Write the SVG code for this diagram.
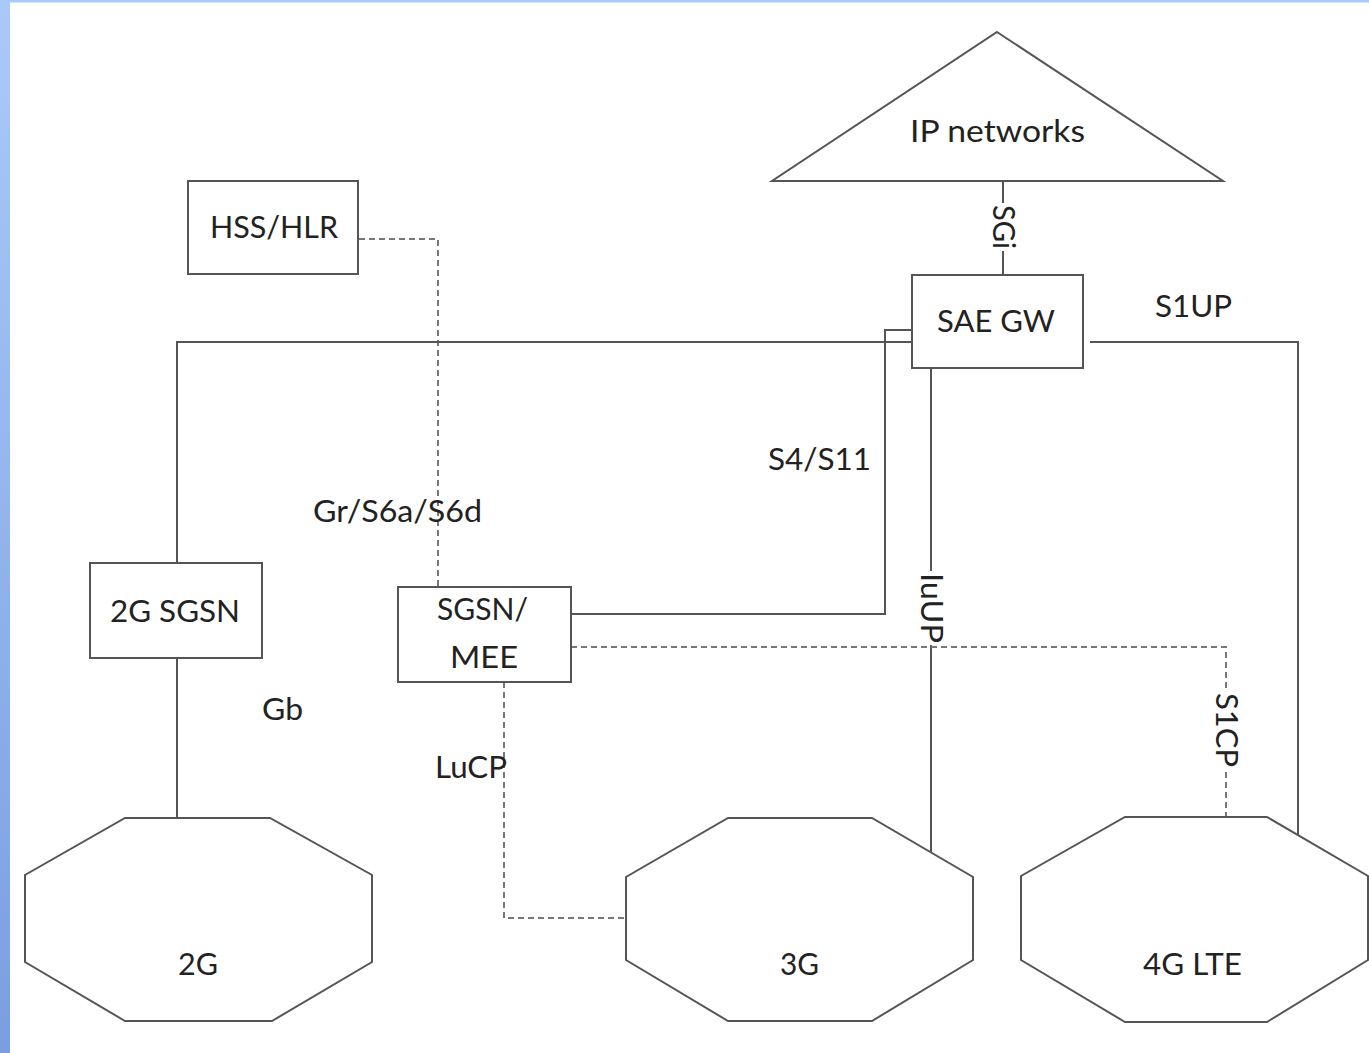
<svg xmlns="http://www.w3.org/2000/svg" width="1369" height="1053" viewBox="0 0 1369 1053">
<defs>
<linearGradient id="bar" x1="0" y1="0" x2="0" y2="1">
<stop offset="0" stop-color="#a9caf9"/>
<stop offset="1" stop-color="#7c9ee0"/>
</linearGradient>
</defs>
<style>
.shape{fill:#fff;stroke:#555;stroke-width:2}
.ln{fill:none;stroke:#555;stroke-width:2}
.dash{fill:none;stroke:#777;stroke-width:2;stroke-dasharray:6 4}
text{font-family:Lato,"Open Sans","Liberation Sans",sans-serif;font-size:31px;fill:#222}
.c{text-anchor:middle}
</style>
<rect x="0" y="0" width="1369" height="1053" fill="#fff"/>
<rect x="0" y="0" width="1369" height="2.5" fill="#a9caf9"/>
<rect x="0" y="0" width="10" height="1053" fill="url(#bar)"/>

<g id="connectors">
<path class="dash" d="M359,239 H438 V587"/>
<line class="ln" x1="1003" y1="181" x2="1003" y2="275"/>
<path class="ln" d="M177,563 V342 H912"/>
<path class="ln" d="M571,614 H885 V330 H912"/>
<path class="ln" d="M931,368 V852"/>
<path class="ln" d="M1090,342 H1298 V835"/>
<path class="dash" d="M571,647 H1226 V817"/>
<path class="dash" d="M504,682 V918 H626"/>
<path class="ln" d="M177,658 V818"/>
<rect x="991" y="203" width="24" height="48" fill="#fff"/>
<text class="c" transform="translate(1003,227) rotate(90)" y="10" textLength="44" lengthAdjust="spacingAndGlyphs">SGi</text>
<rect x="919" y="571" width="24" height="74" fill="#fff"/>
<text class="c" transform="translate(931,608) rotate(90)" y="10" textLength="70" lengthAdjust="spacingAndGlyphs">IuUP</text>
<rect x="1214" y="691" width="24" height="78" fill="#fff"/>
<text class="c" transform="translate(1226,730) rotate(90)" y="10" textLength="74" lengthAdjust="spacingAndGlyphs">S1CP</text>
<text x="1155" y="317" textLength="77" lengthAdjust="spacingAndGlyphs">S1UP</text>
<text x="768" y="470" textLength="103" lengthAdjust="spacingAndGlyphs">S4/S11</text>
<text x="313" y="522" textLength="169" lengthAdjust="spacingAndGlyphs">Gr/S6a/S6d</text>
<text x="262" y="720" textLength="41" lengthAdjust="spacingAndGlyphs">Gb</text>
<text x="435" y="778" textLength="72" lengthAdjust="spacingAndGlyphs">LuCP</text>
</g>

<g id="hss">
<rect class="shape" x="188" y="181" width="170" height="93"/>
<text x="210" y="238" textLength="128" lengthAdjust="spacingAndGlyphs">HSS/HLR</text>
</g>

<g id="ip-networks">
<polygon class="shape" points="997,32 1223,181 772,181"/>
<text x="910" y="142" textLength="175" lengthAdjust="spacingAndGlyphs">IP networks</text>
</g>

<g id="sae-gw">
<rect class="shape" x="912" y="275" width="171" height="93"/>
<text x="937" y="332" textLength="118" lengthAdjust="spacingAndGlyphs">SAE GW</text>
</g>

<g id="sgsn-2g">
<rect class="shape" x="90" y="563" width="172" height="95"/>
<text x="110" y="622" textLength="130" lengthAdjust="spacingAndGlyphs">2G SGSN</text>
</g>

<g id="sgsn-mee">
<rect class="shape" x="398" y="587" width="173" height="95"/>
<text x="437" y="620" textLength="91" lengthAdjust="spacingAndGlyphs">SGSN/</text>
<text x="450" y="668" textLength="68" lengthAdjust="spacingAndGlyphs">MEE</text>
</g>

<g id="net-2g">
<polygon class="shape" points="125,818 270,818 372,875 372,962 272,1021 125,1021 25,962 25,875"/>
<text x="178" y="975" textLength="40" lengthAdjust="spacingAndGlyphs">2G</text>
</g>

<g id="net-3g">
<polygon class="shape" points="728,818 872,818 973,877 973,960 872,1021 728,1021 626,960 626,877"/>
<text x="780" y="975" textLength="39" lengthAdjust="spacingAndGlyphs">3G</text>
</g>

<g id="net-4g">
<polygon class="shape" points="1125,817 1267,817 1368,876 1368,960 1267,1022 1125,1022 1021,960 1021,876"/>
<text x="1143" y="975" textLength="99" lengthAdjust="spacingAndGlyphs">4G LTE</text>
</g>
</svg>
